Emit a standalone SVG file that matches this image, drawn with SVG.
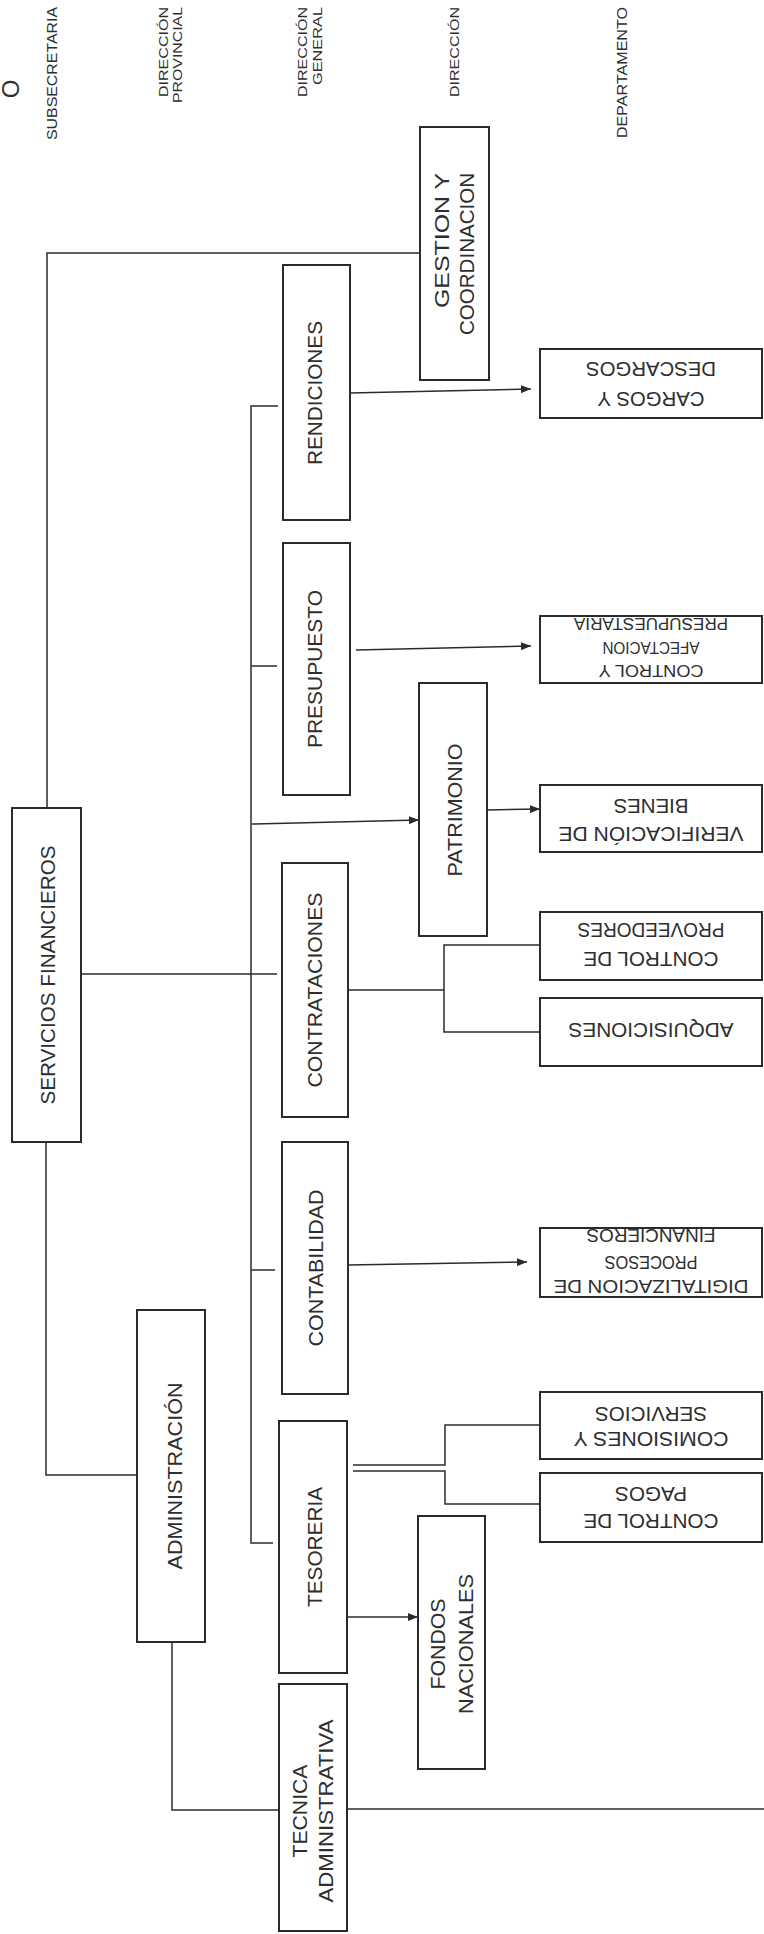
<svg xmlns="http://www.w3.org/2000/svg" width="764" height="1934" viewBox="0 0 764 1934">
<style>
.bg{fill:#ffffff}
.box{fill:#ffffff;stroke:#2b2b2b;stroke-width:2}
.ln{fill:none;stroke:#2b2b2b;stroke-width:1.5}
text{font-family:"Liberation Sans",Arial,sans-serif;fill:#2e2e2e}
.hd{font-size:13px}
.hd2{font-size:14px}
.nd{font-size:21px}
.dp{font-size:20px}
</style>
<defs>
<marker id="ah" markerUnits="userSpaceOnUse" markerWidth="10" markerHeight="8" refX="10" refY="4" orient="auto">
<path d="M0,0 L10,4 L0,8 z" fill="#2b2b2b"/>
</marker>
</defs>
<rect class="bg" x="0" y="0" width="764" height="1934"/>

<g id="header">
<text transform="translate(19,89) rotate(-90)" text-anchor="middle" font-size="24">O</text>
<text class="hd2" transform="translate(57,7) rotate(-90)" text-anchor="end" textLength="133" lengthAdjust="spacingAndGlyphs">SUBSECRETARIA</text>
<text class="hd" transform="translate(168,7) rotate(-90)" text-anchor="end" textLength="90" lengthAdjust="spacingAndGlyphs">DIRECCIÓN</text>
<text class="hd" transform="translate(182,7) rotate(-90)" text-anchor="end" textLength="96" lengthAdjust="spacingAndGlyphs">PROVINCIAL</text>
<text class="hd" transform="translate(307,7) rotate(-90)" text-anchor="end" textLength="90" lengthAdjust="spacingAndGlyphs">DIRECCIÓN</text>
<text class="hd" transform="translate(322,7) rotate(-90)" text-anchor="end" textLength="78" lengthAdjust="spacingAndGlyphs">GENERAL</text>
<text class="hd" transform="translate(459,7) rotate(-90)" text-anchor="end" textLength="90" lengthAdjust="spacingAndGlyphs">DIRECCIÓN</text>
<text class="hd2" transform="translate(627,7) rotate(-90)" text-anchor="end" textLength="131" lengthAdjust="spacingAndGlyphs">DEPARTAMENTO</text>
</g>

<g id="connectors">
<polyline class="ln" points="420,253 47,253 47,808"/>
<polyline class="ln" points="46,1142 46,1475 137,1475"/>
<polyline class="ln" points="172,1642 172,1810 279,1810"/>
<line class="ln" x1="347" y1="1809" x2="764" y2="1809"/>
<line class="ln" x1="81" y1="974" x2="277" y2="974"/>
<polyline class="ln" points="278,406 251,406 251,1543 273,1543"/>
<line class="ln" x1="251" y1="666" x2="277" y2="666"/>
<line class="ln" x1="251" y1="1270" x2="275" y2="1270"/>
<line class="ln" x1="252" y1="824" x2="419" y2="820" marker-end="url(#ah)"/>
<line class="ln" x1="350" y1="393" x2="531" y2="389" marker-end="url(#ah)"/>
<line class="ln" x1="356" y1="650" x2="531" y2="646" marker-end="url(#ah)"/>
<line class="ln" x1="487" y1="810" x2="540" y2="809" marker-end="url(#ah)"/>
<line class="ln" x1="348" y1="1265" x2="527" y2="1262" marker-end="url(#ah)"/>
<line class="ln" x1="347" y1="1617" x2="418" y2="1617" marker-end="url(#ah)"/>
<polyline class="ln" points="348,990 444,990"/>
<polyline class="ln" points="540,945 444,945 444,1032 540,1032"/>
<polyline class="ln" points="353,1465 445,1465 445,1425 539,1425"/>
<polyline class="ln" points="353,1471 445,1471 445,1504 539,1504"/>
</g>

<g id="n-servicios">
<rect class="box" x="12" y="808" width="69" height="334"/>
<text class="nd" transform="translate(55,975) rotate(-90)" text-anchor="middle" textLength="259" lengthAdjust="spacingAndGlyphs">SERVICIOS FINANCIEROS</text>
</g>
<g id="n-administracion">
<rect class="box" x="137" y="1310" width="68" height="332"/>
<text class="nd" transform="translate(182,1476) rotate(-90)" text-anchor="middle" textLength="187" lengthAdjust="spacingAndGlyphs">ADMINISTRACIÓN</text>
</g>
<g id="n-rendiciones">
<rect class="box" x="283" y="265" width="67" height="255"/>
<text class="nd" transform="translate(322,393) rotate(-90)" text-anchor="middle" textLength="144" lengthAdjust="spacingAndGlyphs">RENDICIONES</text>
</g>
<g id="n-presupuesto">
<rect class="box" x="283" y="543" width="67" height="252"/>
<text class="nd" transform="translate(322,669) rotate(-90)" text-anchor="middle" textLength="158" lengthAdjust="spacingAndGlyphs">PRESUPUESTO</text>
</g>
<g id="n-contrataciones">
<rect class="box" x="282" y="863" width="66" height="254"/>
<text class="nd" transform="translate(322,990) rotate(-90)" text-anchor="middle" textLength="195" lengthAdjust="spacingAndGlyphs">CONTRATACIONES</text>
</g>
<g id="n-contabilidad">
<rect class="box" x="282" y="1142" width="66" height="252"/>
<text class="nd" transform="translate(323,1268) rotate(-90)" text-anchor="middle" textLength="157" lengthAdjust="spacingAndGlyphs">CONTABILIDAD</text>
</g>
<g id="n-tesoreria">
<rect class="box" x="279" y="1421" width="68" height="252"/>
<text class="nd" transform="translate(322,1547) rotate(-90)" text-anchor="middle" textLength="120" lengthAdjust="spacingAndGlyphs">TESORERIA</text>
</g>
<g id="n-tecnica">
<rect class="box" x="279" y="1684" width="68" height="247"/>
<text class="dp" transform="translate(307,1811) rotate(-90)" text-anchor="middle" textLength="93" lengthAdjust="spacingAndGlyphs">TECNICA</text>
<text class="dp" transform="translate(333,1811) rotate(-90)" text-anchor="middle" textLength="183" lengthAdjust="spacingAndGlyphs">ADMINISTRATIVA</text>
</g>
<g id="n-gestion">
<rect class="box" x="420" y="127" width="69" height="253"/>
<text class="dp" transform="translate(449,173) rotate(-90)" text-anchor="end" textLength="135" lengthAdjust="spacingAndGlyphs">GESTION Y</text>
<text class="dp" transform="translate(474,173) rotate(-90)" text-anchor="end" textLength="162" lengthAdjust="spacingAndGlyphs">COORDINACION</text>
</g>
<g id="n-patrimonio">
<rect class="box" x="419" y="683" width="68" height="253"/>
<text class="nd" transform="translate(462,810) rotate(-90)" text-anchor="middle" textLength="133" lengthAdjust="spacingAndGlyphs">PATRIMONIO</text>
</g>
<g id="n-fondos">
<rect class="box" x="418" y="1516" width="67" height="253"/>
<text class="dp" transform="translate(445,1644) rotate(-90)" text-anchor="middle" textLength="91" lengthAdjust="spacingAndGlyphs">FONDOS</text>
<text class="dp" transform="translate(473,1644) rotate(-90)" text-anchor="middle" textLength="140" lengthAdjust="spacingAndGlyphs">NACIONALES</text>
</g>

<g id="d-cargos">
<rect class="box" x="540" y="349" width="222" height="69"/>
<text class="dp" transform="translate(651,362) rotate(180)" text-anchor="middle" textLength="130" lengthAdjust="spacingAndGlyphs">DESCARGOS</text>
<text class="dp" transform="translate(651,392) rotate(180)" text-anchor="middle" textLength="107" lengthAdjust="spacingAndGlyphs">CARGOS Y</text>
</g>
<g id="d-control-afectacion">
<rect class="box" x="540" y="616" width="222" height="67"/>
<text font-size="17" transform="translate(651,618) rotate(180)" text-anchor="middle" textLength="154" lengthAdjust="spacingAndGlyphs">PRESUPUESTARIA</text>
<text font-size="17" transform="translate(651,642) rotate(180)" text-anchor="middle" textLength="97" lengthAdjust="spacingAndGlyphs">AFECTACION</text>
<text font-size="17" transform="translate(651,665) rotate(180)" text-anchor="middle" textLength="105" lengthAdjust="spacingAndGlyphs">CONTROL Y</text>
</g>
<g id="d-verificacion">
<rect class="box" x="540" y="785" width="222" height="67"/>
<text class="dp" transform="translate(651,799) rotate(180)" text-anchor="middle" textLength="75" lengthAdjust="spacingAndGlyphs">BIENES</text>
<text class="dp" transform="translate(651,827) rotate(180)" text-anchor="middle" textLength="185" lengthAdjust="spacingAndGlyphs">VERIFICACIÓN DE</text>
</g>
<g id="d-proveedores">
<rect class="box" x="540" y="912" width="222" height="68"/>
<text class="dp" transform="translate(651,923) rotate(180)" text-anchor="middle" textLength="147" lengthAdjust="spacingAndGlyphs">PROVEEDORES</text>
<text class="dp" transform="translate(651,952) rotate(180)" text-anchor="middle" textLength="135" lengthAdjust="spacingAndGlyphs">CONTROL DE</text>
</g>
<g id="d-adquisiciones">
<rect class="box" x="540" y="998" width="222" height="68"/>
<text class="dp" transform="translate(651,1023) rotate(180)" text-anchor="middle" textLength="165" lengthAdjust="spacingAndGlyphs">ADQUISICIONES</text>
</g>
<g id="d-digitalizacion">
<rect class="box" x="540" y="1228" width="222" height="69"/>
<text font-size="18" transform="translate(651,1229) rotate(180)" text-anchor="middle" textLength="129" lengthAdjust="spacingAndGlyphs">FINANCIEROS</text>
<text font-size="18" transform="translate(651,1256) rotate(180)" text-anchor="middle" textLength="93" lengthAdjust="spacingAndGlyphs">PROCESOS</text>
<text font-size="18" transform="translate(651,1280) rotate(180)" text-anchor="middle" textLength="195" lengthAdjust="spacingAndGlyphs">DIGITALIZACION DE</text>
</g>
<g id="d-comisiones">
<rect class="box" x="540" y="1392" width="222" height="67"/>
<text class="dp" transform="translate(651,1407) rotate(180)" text-anchor="middle" textLength="112" lengthAdjust="spacingAndGlyphs">SERVICIOS</text>
<text class="dp" transform="translate(651,1432) rotate(180)" text-anchor="middle" textLength="155" lengthAdjust="spacingAndGlyphs">COMISIONES Y</text>
</g>
<g id="d-pagos">
<rect class="box" x="540" y="1473" width="222" height="69"/>
<text class="dp" transform="translate(651,1487) rotate(180)" text-anchor="middle" textLength="72" lengthAdjust="spacingAndGlyphs">PAGOS</text>
<text class="dp" transform="translate(651,1514) rotate(180)" text-anchor="middle" textLength="135" lengthAdjust="spacingAndGlyphs">CONTROL DE</text>
</g>
</svg>
